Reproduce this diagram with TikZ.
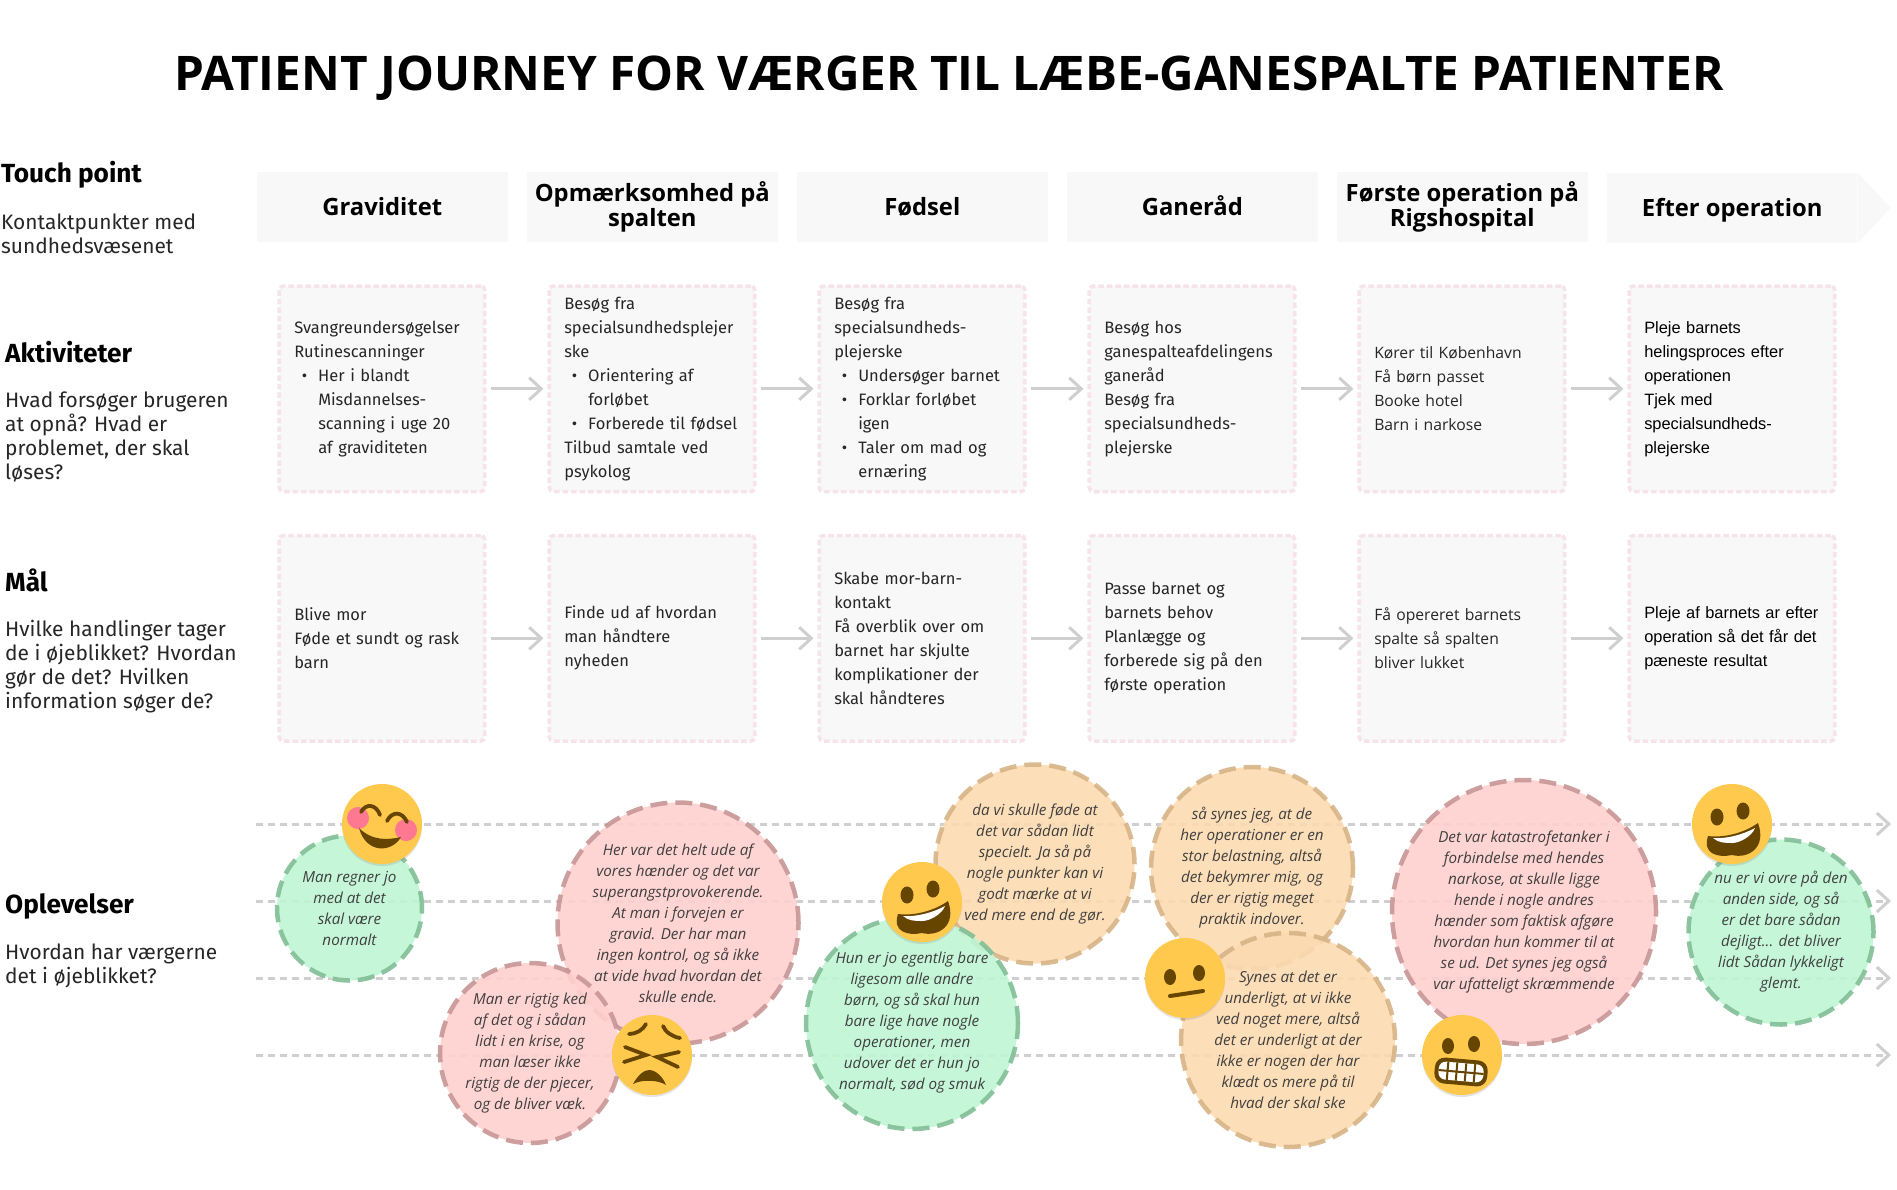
\documentclass[tikz,border=0pt]{standalone}
\usepackage{fontspec}
\setmainfont{Fira Sans}
\newfontfamily\wsans{Open Sans}
\newfontfamily\lsans{Liberation Sans}
\usetikzlibrary{positioning, arrows.meta, shadows}

\definecolor{boxfill}{HTML}{F8F8F8}
\definecolor{boxedge}{HTML}{F6E4E9}
\definecolor{flowgray}{HTML}{CFCFCF}
\definecolor{facey}{HTML}{FFC94D}
\definecolor{faced}{HTML}{664500}
\definecolor{cheek}{HTML}{FF7892}

\newcommand{\itm}{\hspace*{24pt}\llap{\textbullet\hspace{11pt}}}

\tikzset{
  head/.style={font=\wsans\bfseries\fontsize{23.8}{25}\selectfont, fill=boxfill, minimum width=250.5pt, minimum height=70pt, inner sep=0pt, align=center, text=black, execute at begin node={\rule[-6.5pt]{0pt}{30.5pt}}},
  headtwo/.style={head, execute at begin node={\rule[-6.5pt]{0pt}{33.5pt}}},
  card/.style={draw=boxedge, fill=boxfill, line width=3.6pt, dash pattern=on 5.5pt off 3pt, rounded corners=4pt, minimum width=205.5pt, minimum height=205.5pt, text width=175.5pt, inner xsep=15pt, inner ysep=0pt, align=left, font=\fontsize{16.5}{24}\selectfont, text=black!85},
  cardw/.style={card, font=\wsans\fontsize{15.7}{24}\selectfont},
  cardl/.style={card, font=\lsans\fontsize{16.4}{24}\selectfont, text=black},
  rowhead/.style={anchor=west, inner sep=0pt, font=\bfseries\fontsize{26.2}{26}\selectfont},
  rowtext/.style={anchor=north west, inner sep=0pt, align=left, font=\fontsize{20.9}{24}\selectfont, text=black!85},
  flow/.style={draw=flowgray, line width=3pt, -{Straight Barb[length=12pt,width=22pt,line width=3pt]}, shorten >=4pt, shorten <=4pt},
  track/.style={draw=flowgray, line width=3pt, dash pattern=on 7pt off 5pt, -{Straight Barb[length=12pt,width=22pt,line width=3pt]}},
  bubble/.style={circle, opacity=.9, text opacity=1, line width=4.5pt, dash pattern=on 17pt off 8pt, inner sep=-8pt, align=center, font=\wsans\itshape\fontsize{15.2}{21}\selectfont, text=black!75},
  good/.style={bubble, fill={rgb,255:red,191;green,245;blue,212}, draw={rgb,255:red,130;green,190;blue,150}, minimum size=#1},
  bad/.style={bubble, fill={rgb,255:red,255;green,208;blue,207}, draw={rgb,255:red,200;green,150;blue,150}, minimum size=#1},
  mixed/.style={bubble, fill={rgb,255:red,252;green,218;blue,176}, draw={rgb,255:red,215;green,180;blue,135}, minimum size=#1},
  face/.style={fill=facey, drop shadow={shadow xshift=0pt, shadow yshift=-2pt, opacity=.22}},
  feat/.style={draw=faced, line width=3.8pt, line cap=round},
  grin/.pic={
    \path[face] (0,0) circle (40);
    \fill[faced] (-15,-7) ellipse (6.5 and 8.5) (11,-13) ellipse (6.5 and 8.5);
    \fill[faced] (-24,12) .. controls (-8,14) and (12,9) .. (26,-1) .. controls (35,24) and (16,35) .. (0,31) .. controls (-14,34) and (-30,30) .. (-24,12);
    \fill[white] (-19,14) .. controls (-6,15) and (10,11) .. (23,4) .. controls (20,12) and (8,19) .. (0,19) .. controls (-6,19) and (-14,19) .. (-19,14);
  },
  blush/.pic={
    \path[face] (0,0) circle (40);
    \fill[cheek] (-24,-6) circle (11) (24,6) circle (11);
    \draw[feat] (-21,-12) .. controls (-16,-21) and (-6,-20) .. (-2,-9);
    \draw[feat] (5,-3) .. controls (10,-13) and (20,-13) .. (25,-2);
    \fill[faced] (-23,4) .. controls (-10,17) and (6,16) .. (19,13) .. controls (10,29) and (-16,30) .. (-23,4);
  },
  tired/.pic={
    \path[face] (0,0) circle (40);
    \draw[feat] (-23,-21) .. controls (-16,-21) and (-9,-25) .. (-6,-31);
    \draw[feat] (11,-29) .. controls (13,-23) and (21,-18) .. (28,-17);
    \draw[feat] (-27,-8) -- (-6,0) -- (-28,7);
    \draw[feat] (27,-3) -- (5,2) -- (26,12);
    \fill[faced] (-19,29) .. controls (-14,20) and (-8,15) .. (-3,15) .. controls (4,15) and (11,22) .. (14,30) .. controls (7,25) and (-10,24) .. (-19,29);
  },
  blank/.pic={
    \path[face] (0,0) circle (40);
    \fill[faced] (-15,-1) ellipse (6 and 8) (14,-5) ellipse (6 and 8);
    \draw[feat, line width=4pt] (-15,18) -- (18,13);
  },
  grimace/.pic={
    \path[face] (0,0) circle (40);
    \fill[faced] (-14,-9) ellipse (6 and 8) (12,-11) ellipse (6 and 8);
    \begin{scope}[rotate=-5]
      \fill[faced, rounded corners=10pt] (-26,4) rectangle (27,30);
      \fill[white, rounded corners=7pt] (-22,8) rectangle (23,26);
      \draw[faced, line width=2pt] (-22,17) -- (23,17);
      \draw[faced, line width=2pt] (-13,8) -- (-13,26) (-4,8) -- (-4,26) (5,8) -- (5,26) (14,8) -- (14,26);
    \end{scope}
  },
}

\begin{document}
\begin{tikzpicture}[x=1pt, y=-1pt, node distance=270pt, on grid]
   \useasboundingbox (0,0) rectangle (1897,1189);

   \node[font=\wsans\bfseries\fontsize{47.7}{50}\selectfont, inner sep=0pt] (title) at (949,78) {PATIENT JOURNEY FOR VÆRGER TIL LÆBE-GANESPALTE PATIENTER};

   % Touch points
   \node[head] (h1) at (382.3,207) {Graviditet};
   \node[headtwo] (h2) [right=of h1] {Opmærksomhed på\\spalten};
   \node[head] (h3) [right=of h2] {Fødsel};
   \node[head] (h4) [right=of h3] {Ganeråd};
   \node[headtwo] (h5) [right=of h4] {Første operation på\\Rigshospital};
   \node[head] (h6) [right=269.9pt of h5, yshift=-1pt] {Efter operation};
   \fill[boxfill] (h6.north east) -- ++(33,35) -- (h6.south east) -- cycle;

   % Row labels
   \node[rowhead] (lab1) at (1,175) {Touch point};
   \node[rowtext] (txt1) at (1,214) {Kontaktpunkter med\\sundhedsvæsenet};
   \node[rowhead] (lab2) at (5,352) {Aktiviteter};
   \node[rowtext] (txt2) at (5,392) {Hvad forsøger brugeren\\at opnå? Hvad er\\problemet, der skal\\løses?};
   \node[rowhead] (lab3) at (5,580) {Mål};
   \node[rowtext] (txt3) at (5,620) {Hvilke handlinger tager\\de i øjeblikket? Hvordan\\gør de det? Hvilken\\information søger de?};
   \node[rowhead] (lab4) at (5,906) {Oplevelser};
   \node[rowtext] (txt4) at (5,944) {Hvordan har værgerne\\det i øjeblikket?};

   % Activities
   \node[card] (a1) at (382,388.8) {Svangreundersøgelser\\Rutinescanninger\\\itm Her i blandt\\\hspace*{24pt}Misdannelses-\\\hspace*{24pt}scanning i uge 20\\\hspace*{24pt}af graviditeten};
   \node[card] (a2) [right=of a1] {Besøg fra\\specialsundhedsplejer\\ske\\\itm Orientering af\\\hspace*{24pt}forløbet\\\itm Forberede til fødsel\\Tilbud samtale ved\\psykolog};
   \node[card] (a3) [right=of a2] {Besøg fra\\specialsundheds-\\plejerske\\\itm Undersøger barnet\\\itm Forklar forløbet\\\hspace*{24pt}igen\\\itm Taler om mad og\\\hspace*{24pt}ernæring};
   \node[card] (a4) [right=of a3] {Besøg hos\\ganespalteafdelingens\\ganeråd\\Besøg fra\\specialsundheds-\\plejerske};
   \node[cardw] (a5) [right=of a4] {Kører til København\\Få børn passet\\Booke hotel\\Barn i narkose};
   \node[cardl] (a6) [right=of a5] {Pleje barnets\\helingsproces efter\\operationen\\Tjek med\\specialsundheds-\\plejerske};

   % Goals
   \node[card] (g1) at (382,638.3) {Blive mor\\Føde et sundt og rask\\barn};
   \node[card] (g2) [right=of g1] {Finde ud af hvordan\\man håndtere\\nyheden};
   \node[card] (g3) [right=of g2] {Skabe mor-barn-\\kontakt\\Få overblik over om\\barnet har skjulte\\komplikationer der\\skal håndteres};
   \node[card] (g4) [right=of g3] {Passe barnet og\\barnets behov\\Planlægge og\\forberede sig på den\\første operation};
   \node[cardw] (g5) [right=of g4] {Få opereret barnets\\spalte så spalten\\bliver lukket};
   \node[cardl] (g6) [right=of g5] {Pleje af barnets ar efter\\operation så det får det\\pæneste resultat};

   % Transitions
   \path[flow]
    (a1) edge (a2)
    (a2) edge (a3)
    (a3) edge (a4)
    (a4) edge (a5)
    (a5) edge (a6)
    (g1) edge (g2)
    (g2) edge (g3)
    (g3) edge (g4)
    (g4) edge (g5)
    (g5) edge (g6);

   % Experience tracks
   \coordinate (t1a) at (256,824);
   \coordinate (t1b) at (1891,824);
   \coordinate (t2a) at (256,901);
   \coordinate (t2b) at (1891,901);
   \coordinate (t3a) at (256,978);
   \coordinate (t3b) at (1891,978);
   \coordinate (t4a) at (256,1055);
   \coordinate (t4b) at (1891,1055);
   \draw[track] (t1a) -- (t1b);
   \draw[track] (t2a) -- (t2b);
   \draw[track] (t3a) -- (t3b);
   \draw[track] (t4a) -- (t4b);

   % Quotes
   \node[good=145pt] (q1) at (349.5,908) {Man regner jo\\med at det\\skal være\\normalt};
   \node[bad=241pt] (q2) at (678,923) {Her var det helt ude af\\vores hænder og det var\\superangstprovokerende.\\At man i forvejen er\\gravid. Der har man\\ingen kontrol, og så ikke\\at vide hvad hvordan det\\skulle ende.};
   \node[bad=180pt] (q3) at (530,1053) {Man er rigtig ked\\af det og i sådan\\lidt i en krise, og\\man læser ikke\\rigtig de der pjecer,\\og de bliver væk.};
   \node[mixed=199pt] (q4) at (1035,864) {da vi skulle føde at\\det var sådan lidt\\specielt. Ja så på\\nogle punkter kan vi\\godt mærke at vi\\ved mere end de gør.};
   \node[good=212pt] (q5) at (912,1023) {Hun er jo egentlig bare\\ligesom alle andre\\børn, og så skal hun\\bare lige have nogle\\operationer, men\\udover det er hun jo\\normalt, sød og smuk};
   \node[mixed=202pt] (q6) at (1252,868) {så synes jeg, at de\\her operationer er en\\stor belastning, altså\\det bekymrer mig, og\\der er rigtig meget\\praktik indover.};
   \node[mixed=214pt] (q7) at (1288,1040) {Synes at det er\\underligt, at vi ikke\\ved noget mere, altså\\det er underligt at der\\ikke er nogen der har\\klædt os mere på til\\hvad der skal ske};
   \node[bad=264pt] (q8) at (1524,912) {Det var katastrofetanker i\\forbindelse med hendes\\narkose, at skulle ligge\\hende i nogle andres\\hænder som faktisk afgøre\\hvordan hun kommer til at\\se ud. Det synes jeg også\\var ufatteligt skræmmende};
   \node[good=185pt] (q9) at (1781,932) {nu er vi ovre på den\\anden side, og så\\er det bare sådan\\dejligt... det bliver\\lidt Sådan lykkeligt\\glemt.};

   % Faces
   \pic (f1) at (382,824) {blush};
   \pic (f2) at (652,1055) {tired};
   \pic (f3) at (922,902) {grin};
   \pic (f4) at (1185,978) {blank};
   \pic (f5) at (1462,1055) {grimace};
   \pic (f6) at (1732,824) {grin};
\end{tikzpicture}
\end{document}
